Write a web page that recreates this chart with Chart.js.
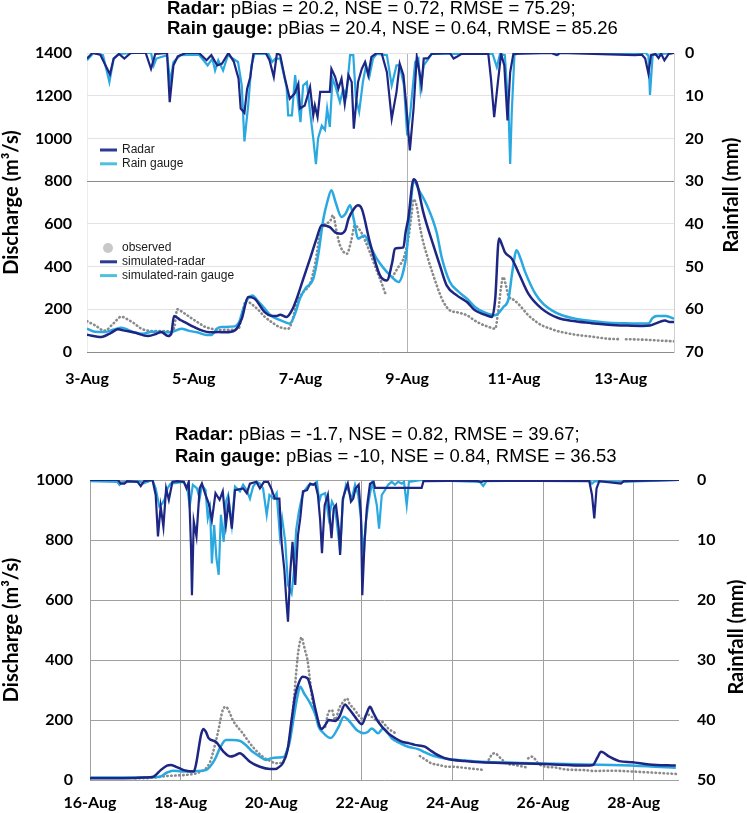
<!DOCTYPE html>
<html>
<head>
<meta charset="utf-8">
<script src="https://cdn.jsdelivr.net/npm/chart.js@4.4.1/dist/chart.umd.min.js"></script>
<style>
    html, body { margin: 0; padding: 0; background: #fff; }
    #wrap { position: relative; width: 747px; height: 813px; overflow: hidden; }
    canvas { position: absolute; left: 0; }
    #topChart { top: 0; }
    #bottomChart { top: 400px; }
</style>
</head>
<body>
<div id="wrap">
    <canvas id="topChart" width="747" height="396"></canvas>
    <canvas id="bottomChart" width="747" height="413"></canvas>
</div>
<script>
const COLOR_RADAR = '#1d2683';
const COLOR_GAUGE = '#2aa8e0';
const COLOR_OBS = '#8a8a8a';

// ---------- event 1 : 3-14 Aug ----------
const topTicks = [3, 5, 7, 9, 11, 13];
const topHeader = [
    ['Radar:', ' pBias = 20.2, NSE = 0.72, RMSE = 75.29;'],
    ['Rain gauge:', ' pBias = 20.4, NSE = 0.64, RMSE = 85.26']
];

const topObsTime = [3.0, 3.15, 3.33, 3.5, 3.64, 3.78, 3.89, 4.0, 4.14, 4.3, 4.45, 4.58, 4.64, 4.69, 4.8, 4.96, 5.1, 5.21, 5.35, 5.5, 5.65, 5.84, 5.9, 5.98, 6.08, 6.2, 6.33, 6.46, 6.6, 6.77, 6.85, 6.93, 7.05, 7.18, 7.28, 7.37, 7.46, 7.55, 7.61, 7.68, 7.74, 7.87, 7.95, 8.02, 8.1, 8.14, 8.3, 8.4, 8.49, 8.6, 8.66, 8.72, 8.84, 8.93, 9.02, 9.08, 9.12, 9.18, 9.24, 9.3, 9.37, 9.49, 9.6, 9.68, 9.8, 9.95, 10.12, 10.25, 10.37, 10.5, 10.65, 10.7, 10.76, 10.8, 10.85, 10.9, 10.96, 11.08, 11.27, 11.4, 11.52, 11.7, 11.83, 12.0, 12.15, 12.45, 12.77, 13.0, 13.05, 13.1, 13.4, 13.7, 14.0];
const topObsFlow = [144, 125, 100, 135, 165, 150, 133, 112, 100, 98, 98, 95, 120, 200, 185, 158, 135, 118, 108, 103, 104, 110, 170, 240, 225, 200, 165, 140, 118, 109, 150, 230, 280, 320, 420, 560, 600, 610, 640, 560, 500, 460, 520, 593, 575, 560, 468, 400, 343, 268, null, 350, 400, 437, 530, 640, 715, 680, 585, 515, 453, 359, 280, 234, 195, 185, 172, 150, 133, 120, 109, 180, 304, 351, 312, 260, 250, 226, 172, 145, 125, 108, 97, 88, 81, 72, 62, 60, null, 60, 58, 54, 50];

const topRadarTime = [3.0, 3.27, 3.45, 3.58, 3.7, 3.89, 4.14, 4.3, 4.39, 4.52, 4.58, 4.63, 4.75, 4.83, 5.0, 5.15, 5.3, 5.46, 5.6, 5.77, 5.9, 6.02, 6.14, 6.33, 6.45, 6.55, 6.62, 6.74, 6.85, 6.93, 7.05, 7.18, 7.3, 7.4, 7.55, 7.65, 7.75, 7.84, 7.9, 8.0, 8.08, 8.15, 8.3, 8.49, 8.62, 8.72, 8.77, 8.93, 8.97, 9.02, 9.12, 9.18, 9.3, 9.49, 9.62, 9.74, 9.93, 10.12, 10.27, 10.45, 10.59, 10.65, 10.72, 10.78, 10.83, 10.96, 11.08, 11.27, 11.52, 11.83, 12.15, 12.45, 12.77, 13.1, 13.4, 13.55, 13.65, 13.83, 13.92, 14.0];
const topRadarFlow = [81, 70, 90, 106, 100, 91, 75, 85, 94, 75, 86, 169, 150, 140, 118, 101, 92, 94, 92, 101, 156, 258, 250, 187, 170, 169, 175, 164, 200, 250, 340, 437, 530, 593, 585, 560, 554, 570, 624, 670, 687, 670, 515, 359, 335, 420, 484, 490, 560, 624, 809, 790, 656, 500, 400, 312, 265, 234, 195, 175, 164, 250, 531, 500, 468, 437, 375, 273, 203, 159, 144, 135, 128, 124, 122, 124, 133, 148, 140, 140];

const topGaugeTime = [3.0, 3.15, 3.33, 3.5, 3.64, 3.89, 4.05, 4.21, 4.39, 4.55, 4.77, 4.9, 5.08, 5.24, 5.33, 5.45, 5.52, 5.77, 5.85, 5.93, 6.03, 6.1, 6.2, 6.33, 6.45, 6.55, 6.71, 6.8, 6.9, 6.99, 7.1, 7.24, 7.33, 7.43, 7.5, 7.58, 7.66, 7.77, 7.85, 7.93, 8.0, 8.08, 8.2, 8.3, 8.43, 8.55, 8.68, 8.84, 8.93, 8.99, 9.05, 9.13, 9.24, 9.37, 9.55, 9.65, 9.8, 9.95, 10.12, 10.27, 10.45, 10.65, 10.8, 10.9, 10.97, 11.05, 11.12, 11.21, 11.4, 11.55, 11.71, 11.9, 12.15, 12.45, 12.77, 13.2, 13.52, 13.6, 13.68, 13.85, 14.0];
const topGaugeFlow = [109, 95, 94, 105, 113, 91, 85, 95, 94, 92, 109, 100, 91, 80, 80, 112, 117, 120, 140, 203, 255, 265, 240, 203, 170, 156, 140, 133, 180, 250, 300, 343, 450, 624, 700, 757, 700, 632, 650, 687, 620, 530, 546, 500, 437, 395, 359, 328, 380, 468, 656, 796, 749, 687, 562, 440, 328, 285, 250, 211, 185, 172, 210, 250, 375, 476, 440, 375, 273, 225, 195, 172, 156, 145, 137, 134, 133, 160, 169, 168, 156];

const topRadarRainTime = [3.0, 3.1, 3.25, 3.35, 3.43, 3.5, 3.6, 3.7, 3.82, 4.1, 4.2, 4.28, 4.5, 4.55, 4.62, 4.7, 4.85, 5.1, 5.24, 5.33, 5.44, 5.53, 5.65, 5.75, 5.84, 5.88, 5.95, 6.0, 6.06, 6.12, 6.35, 6.42, 6.5, 6.56, 6.62, 6.71, 6.8, 6.89, 6.96, 6.99, 7.08, 7.18, 7.24, 7.27, 7.32, 7.37, 7.55, 7.58, 7.65, 7.71, 7.77, 7.83, 7.9, 7.96, 8.0, 8.08, 8.15, 8.21, 8.27, 8.33, 8.43, 8.52, 8.62, 8.71, 8.8, 8.86, 8.93, 8.98, 9.05, 9.12, 9.18, 9.23, 9.27, 9.31, 9.39, 9.46, 9.8, 9.87, 9.93, 10.02, 10.52, 10.57, 10.63, 10.7, 10.76, 10.82, 10.88, 10.93, 10.99, 11.7, 11.8, 11.86, 13.27, 13.4, 13.46, 13.52, 13.57, 13.65, 13.71, 13.76, 13.82, 13.9, 14.0];
const topRadarRain = [1.3, 0, 0.4, 3, 5, 1.3, 0.2, 1.3, 0, 0, 3.7, 0.2, 0, 11.5, 2.9, 0.8, 0, 0, 1.7, 0.5, 2.9, 2.5, 0, 2, 6, 13, 14, 8.4, 5.6, 0, 0, 1.7, 5.6, 0, 0.5, 6, 10.7, 9.5, 7.2, 13, 12.3, 8, 14.6, 12.3, 15, 9.1, 9.1, 3.7, 5.6, 8.4, 6, 11.9, 5.2, 6.8, 17.7, 6.8, 3.7, 2.1, 5.2, 0.9, 0, 0, 4.5, 15.4, 9.1, 2.5, 5.2, 11.9, 22.8, 13, 0.9, 4.5, 7.6, 1.3, 1.2, 0.2, 0, 1.3, 0.9, 0.2, 0.2, 6, 15, 6.8, 0.2, 2.9, 15.8, 4.5, 0.2, 0, 0.5, 0, 0.5, 0.4, 1.3, 4.8, 0.5, 0.2, 1.2, 0.2, 1.7, 0.2, 0];

const topGaugeRainTime = [3.0, 3.12, 3.3, 3.42, 3.5, 3.6, 3.9, 4.2, 4.25, 4.3, 4.5, 4.56, 4.62, 4.75, 5.1, 5.26, 5.35, 5.4, 5.46, 5.55, 5.64, 5.83, 5.9, 5.95, 6.02, 6.08, 6.14, 6.4, 6.47, 6.53, 6.62, 6.74, 6.77, 6.84, 6.9, 6.96, 7.0, 7.05, 7.12, 7.18, 7.24, 7.29, 7.33, 7.4, 7.46, 7.5, 7.55, 7.6, 7.65, 7.74, 7.8, 7.86, 7.93, 7.99, 8.04, 8.1, 8.17, 8.23, 8.29, 8.36, 8.43, 8.62, 8.71, 8.8, 8.86, 8.94, 9.0, 9.06, 9.15, 9.21, 9.25, 9.31, 9.4, 9.46, 10.6, 10.68, 10.74, 10.83, 10.9, 10.93, 10.96, 11.01, 11.08, 11.77, 11.82, 11.86, 13.47, 13.5, 13.52, 13.55, 13.6, 13.77, 14.0];
const topGaugeRain = [1.7, 0, 0.5, 6.8, 1.3, 0.2, 0, 0, 2.9, 1.3, 0.5, 6.8, 2.1, 0.5, 0.4, 2.9, 1.3, 4.1, 1.7, 4.1, 0.5, 2.1, 7.6, 20.7, 12.3, 2.9, 0.2, 0.2, 2.1, 1.3, 1.3, 8, 14.6, 14.6, 5.2, 11.9, 16.2, 7.6, 6.8, 13.8, 20, 26, 20, 17, 18, 13, 17.3, 6, 7.6, 11.5, 8.4, 9.9, 0.5, 0.5, 10.7, 13.8, 6.8, 2.9, 5.6, 1.3, 0.2, 0.5, 7.6, 2.9, 2.9, 7.6, 19.3, 13.8, 2.1, 1.3, 8.4, 2.9, 1.3, 0.2, 0.2, 3.3, 0.2, 0.5, 13.8, 26, 13.8, 0.5, 0, 0, 0.5, 0, 0, 0.4, 0.5, 9.8, 0.5, 0.2, 0];

// ---------- event 2 : 16-29 Aug ----------
const bottomTicks = [16, 18, 20, 22, 24, 26, 28];
const bottomHeader = [
    ['Radar:', ' pBias = -1.7, NSE = 0.82, RMSE = 39.67;'],
    ['Rain gauge:', ' pBias = -10, NSE = 0.84, RMSE = 36.53']
];

const botObsTime = [17.0, 17.2, 17.4, 17.68, 17.9, 18.12, 18.34, 18.5, 18.56, 18.65, 18.71, 18.82, 18.93, 19.0, 19.08, 19.15, 19.37, 19.59, 19.81, 20.0, 20.1, 20.25, 20.33, 20.4, 20.5, 20.54, 20.58, 20.62, 20.67, 20.71, 20.75, 20.8, 20.85, 20.9, 20.99, 21.1, 21.17, 21.27, 21.34, 21.41, 21.5, 21.6, 21.67, 21.74, 21.79, 21.9, 22.0, 22.08, 22.15, 22.3, 22.45, 22.58, 22.74, 23.0, 23.28, 23.4, 23.53, 23.7, 23.9, 24.0, 24.35, 24.72, 24.76, 24.8, 24.87, 24.93, 25.08, 25.2, 25.38, 25.63, 25.65, 25.67, 25.75, 25.81, 25.89, 26.07, 26.25, 26.5, 26.91, 27.13, 27.5, 28.01, 28.5, 28.96];
const botObsFlow = [6, 6, 8, 13, 15, 17, 22, 32, 39, 60, 89, 156, 233, 244, 225, 200, 156, 111, 78, 62, 56, 58, 90, 133, 267, 339, 406, 450, 476, 455, 430, 400, 339, 275, 211, 175, 172, 228, 233, 200, 239, 262, 272, 250, 244, 222, 205, 211, 217, 200, 194, 172, 156, null, 80, 68, 56, 50, 44, 44, 39, 33, null, 67, 85, 89, 70, 55, 50, 42, null, 72, 78, 72, 56, 44, 42, 35, 33, 30, 31, 28, 24, 20];

const botRadarTime = [16.0, 16.5, 17.0, 17.2, 17.4, 17.56, 17.7, 17.78, 17.9, 18.07, 18.29, 18.35, 18.4, 18.45, 18.5, 18.56, 18.62, 18.77, 18.95, 19.1, 19.2, 19.31, 19.45, 19.53, 19.75, 19.97, 20.1, 20.15, 20.25, 20.36, 20.45, 20.53, 20.6, 20.69, 20.8, 20.9, 20.97, 21.11, 21.2, 21.27, 21.41, 21.5, 21.63, 21.7, 21.82, 21.9, 22.0, 22.1, 22.18, 22.25, 22.36, 22.58, 22.73, 22.88, 23.05, 23.17, 23.39, 23.5, 23.61, 23.75, 23.9, 24.27, 24.63, 25.26, 26.0, 26.95, 27.1, 27.2, 27.28, 27.46, 27.68, 27.97, 28.34, 28.93];
const botRadarFlow = [6, 6, 7, 8, 11, 33, 48, 50, 44, 33, 28, 60, 106, 150, 170, 160, 139, 128, 94, 78, 82, 89, 72, 61, 44, 37, 37, 41, 55, 100, 200, 283, 320, 344, 339, 290, 239, 170, 185, 200, 197, 210, 252, 240, 217, 200, 186, 220, 244, 225, 194, 156, 140, 128, 122, 117, 111, 100, 89, 78, 70, 63, 59, 56, 53, 48, 50, 75, 94, 78, 63, 59, 52, 48];

const botGaugeTime = [16.0, 16.8, 17.3, 17.54, 17.7, 17.83, 18.0, 18.12, 18.35, 18.56, 18.65, 18.75, 18.88, 19.0, 19.15, 19.3, 19.45, 19.59, 19.75, 19.88, 19.99, 20.15, 20.29, 20.35, 20.4, 20.5, 20.58, 20.64, 20.72, 20.84, 20.99, 21.04, 21.13, 21.31, 21.49, 21.6, 21.7, 21.82, 21.9, 22.04, 22.13, 22.22, 22.36, 22.47, 22.58, 22.66, 22.85, 23.02, 23.24, 23.4, 23.53, 23.7, 23.9, 24.27, 24.63, 25.5, 26.5, 27.5, 28.3, 28.93];
const botGaugeFlow = [8, 8, 9, 11, 25, 31, 29, 28, 30, 33, 45, 67, 110, 133, 133, 131, 115, 94, 78, 67, 72, 75, 78, 100, 122, 211, 280, 311, 290, 261, 211, 180, 160, 140, 178, 211, 200, 178, 165, 156, 160, 172, 156, 172, 155, 139, 122, 111, 103, 92, 83, 76, 70, 65, 61, 57, 53, 50, 46, 41];

const botRadarRainTime = [16.0, 16.62, 16.68, 16.76, 16.82, 17.05, 17.12, 17.19, 17.38, 17.45, 17.5, 17.56, 17.62, 17.68, 17.74, 17.82, 17.93, 18.07, 18.13, 18.18, 18.23, 18.25, 18.29, 18.35, 18.42, 18.47, 18.55, 18.62, 18.69, 18.77, 18.86, 18.93, 19.0, 19.06, 19.13, 19.2, 19.38, 19.46, 19.53, 19.67, 19.75, 19.84, 19.93, 20.0, 20.08, 20.18, 20.23, 20.29, 20.33, 20.37, 20.42, 20.47, 20.53, 20.59, 20.64, 20.7, 20.79, 20.86, 20.93, 20.97, 21.03, 21.08, 21.12, 21.18, 21.25, 21.33, 21.38, 21.43, 21.49, 21.52, 21.58, 21.63, 21.69, 21.76, 21.81, 21.86, 21.93, 21.98, 22.01, 22.06, 22.11, 22.18, 22.26, 22.29, 23.32, 23.36, 24.5, 24.64, 24.72, 27.02, 27.08, 27.13, 27.18, 27.24, 27.72, 27.78, 29.0];
const botRadarRain = [0, 0, 0.6, 0.6, 0.2, 0.3, 1, 0.2, 0, 2.5, 9.4, 4.4, 7.8, 1.4, 3.3, 0.3, 0.2, 0.3, 1.4, 0.3, 11.4, 19.2, 6.9, 9.4, 1.4, 0.6, 2.5, 3.9, 6.7, 2.2, 3.3, 1.9, 7.5, 3.6, 8.1, 1.7, 1.4, 2.2, 0.6, 0.3, 1.4, 0.3, 0.3, 1.4, 3.1, 3.1, 10.6, 15, 19.7, 23.6, 15.3, 10.3, 17.5, 9.2, 6.4, 1.9, 1.7, 0.6, 0.8, 0.6, 2.5, 6.7, 12.2, 4.2, 2.5, 9.7, 4.7, 4.2, 8.1, 12.5, 3.1, 1.9, 0.6, 3.6, 3.1, 1.4, 0.8, 5.8, 19.2, 10.3, 4.7, 0.6, 0.3, 1.3, 1.3, 0.2, 0.1, 0.3, 0.1, 0.2, 2.5, 6.4, 1.4, 0.2, 0.6, 0.2, 0];

const botGaugeRainTime = [16.0, 16.6, 16.65, 16.7, 17.1, 17.17, 17.38, 17.45, 17.53, 17.6, 17.65, 17.71, 17.78, 18.07, 18.15, 18.2, 18.27, 18.36, 18.42, 18.47, 18.55, 18.6, 18.65, 18.69, 18.74, 18.79, 18.84, 18.89, 18.95, 19.0, 19.05, 19.13, 19.2, 19.31, 19.38, 19.46, 19.53, 19.6, 19.68, 19.75, 19.82, 19.9, 19.96, 20.05, 20.12, 20.19, 20.24, 20.31, 20.37, 20.45, 20.5, 20.55, 20.61, 20.67, 20.72, 20.83, 20.94, 21.01, 21.06, 21.1, 21.19, 21.27, 21.34, 21.41, 21.47, 21.52, 21.58, 21.65, 21.7, 21.78, 21.85, 21.92, 21.98, 22.04, 22.09, 22.16, 22.23, 22.33, 22.38, 22.44, 22.51, 22.58, 22.66, 22.73, 22.8, 22.88, 22.93, 22.99, 23.04, 23.32, 24.6, 24.68, 24.75, 27.02, 27.08, 27.14, 27.72, 29.0];
const botGaugeRain = [0.2, 0.3, 0.8, 0.4, 0.2, 0.6, 0, 1.4, 4.4, 3.9, 3.1, 1.4, 0.6, 0.3, 1.4, 4.4, 0.8, 1.4, 3.1, 0.8, 1.7, 6.4, 4.7, 13.9, 7.5, 13, 15.8, 5.8, 10.3, 3.6, 2.5, 7.5, 1.1, 1.9, 0.8, 1.7, 3.1, 1.1, 0.3, 0.6, 1.4, 5.8, 2.5, 3.1, 2.2, 9.2, 6.4, 10.3, 17.5, 18.9, 15.3, 8.3, 5.3, 3.1, 1.9, 0.8, 0.7, 0.3, 3.6, 2.5, 2.2, 6.4, 3.6, 4.7, 8.6, 11.9, 3.6, 0.8, 1.7, 3.1, 0.8, 2.5, 6.4, 12.8, 6.9, 3.1, 0.3, 4.2, 8.1, 2.5, 1.7, 0.8, 0.3, 0.8, 0.3, 0.6, 0.3, 4.2, 0.3, 0, 0.3, 1, 0.2, 0, 0.6, 0.2, 0.3, 0];

const tickFont = { family: 'Lato', size: 16, weight: 'bold' };
const axisTitleFont = { family: 'Lato', size: 20, weight: 'bold' };

function points(times, values) {
    return times.map((t, i) => ({ x: t, y: values[i] }));
}

function flowSet(label, data, color) {
    return {
        label: label, data: data, yAxisID: 'y',
        borderColor: color, borderWidth: 2.5, pointRadius: 0,
        cubicInterpolationMode: 'monotone', spanGaps: false
    };
}

function obsSet(data) {
    return {
        label: 'observed', data: data, yAxisID: 'y',
        borderColor: COLOR_OBS, borderWidth: 2.6, borderDash: [0.5, 3.5], borderCapStyle: 'round',
        pointRadius: 0, cubicInterpolationMode: 'monotone', spanGaps: false
    };
}

function rainSet(label, data, color) {
    return {
        label: label, data: data, yAxisID: 'y2',
        borderColor: color, borderWidth: 2.2, pointRadius: 0, tension: 0
    };
}

// header, right axis title and in-plot legends
function decorPlugin(opts) {
    return {
        id: 'decor',
        afterDraw(chart) {
            const ctx = chart.ctx;
            ctx.save();
            ctx.fillStyle = '#000';
            ctx.textBaseline = 'middle';
            ctx.textAlign = 'left';
            opts.header.forEach(([bold, rest], i) => {
                ctx.font = 'bold 18.5px "Liberation Sans", Arial, sans-serif';
                ctx.fillText(bold, opts.headerX, opts.headerY[i]);
                const w = ctx.measureText(bold).width;
                ctx.font = '18.5px "Liberation Sans", Arial, sans-serif';
                ctx.fillText(rest, opts.headerX + w, opts.headerY[i]);
            });

            ctx.save();
            ctx.translate(opts.rightTitleX, opts.rightTitleY);
            ctx.rotate(-Math.PI / 2);
            ctx.textAlign = 'center';
            ctx.font = 'bold 20px Lato, sans-serif';
            ctx.fillText('Rainfall (mm)', 0, 0);
            ctx.restore();

            (opts.legends || []).forEach(lg => {
                lg.items.forEach((item, i) => {
                    const y = lg.y + i * 13.8;
                    if (item.kind === 'dot') {
                        ctx.fillStyle = '#c8c8c8';
                        ctx.beginPath();
                        ctx.arc(lg.x + 8, y, 5, 0, Math.PI * 2);
                        ctx.fill();
                    } else {
                        ctx.strokeStyle = item.color;
                        ctx.lineWidth = 3;
                        ctx.beginPath();
                        ctx.moveTo(lg.x, y);
                        ctx.lineTo(lg.x + 17, y);
                        ctx.stroke();
                    }
                    ctx.fillStyle = '#1a1a1a';
                    ctx.font = '12px "Liberation Sans", Arial, sans-serif';
                    ctx.textAlign = 'left';
                    ctx.fillText(item.label, lg.x + 22, y);
                });
            });
            ctx.restore();
        }
    };
}

function buildChart(canvas, cfg) {
    return new Chart(canvas, {
        type: 'line',
        data: { datasets: cfg.datasets },
        options: {
            responsive: false,
            animation: false,
            layout: { padding: { top: cfg.top, left: 0, right: 0, bottom: 0 } },
            plugins: { legend: { display: false }, tooltip: { enabled: false } },
            scales: {
                x: {
                    type: 'linear', min: cfg.xMin, max: cfg.xMax,
                    afterBuildTicks: s => { s.ticks = cfg.xTicks.map(v => ({ value: v })); },
                    afterFit: s => { s.height = cfg.xHeight; },
                    ticks: { callback: v => v + '-Aug', font: tickFont, color: '#000', padding: cfg.xPad, maxRotation: 0, autoSkip: false },
                    grid: { color: cfg.xGridColor, drawTicks: false, lineWidth: 1 },
                    border: { display: false }
                },
                y: {
                    position: 'left', min: 0, max: cfg.flowMax,
                    afterFit: s => { s.width = cfg.leftWidth; },
                    ticks: { stepSize: cfg.flowStep, font: tickFont, color: '#000', padding: cfg.yPad, callback: v => String(v) },
                    grid: { color: cfg.yGridColor, drawTicks: false, lineWidth: 1 },
                    border: { display: false },
                    title: { display: true, text: 'Discharge (m³/s)', font: axisTitleFont, color: '#000', padding: { top: 0, bottom: 0 } }
                },
                y2: {
                    position: 'right', reverse: true, min: 0, max: cfg.rainMax,
                    afterFit: s => { s.width = cfg.rightWidth; },
                    ticks: { stepSize: 10, font: tickFont, color: '#000', padding: cfg.y2Pad, callback: v => String(v) },
                    grid: { display: false, drawTicks: false },
                    border: { display: cfg.rightBorder, color: '#d0d0d0' }
                }
            }
        },
        plugins: [decorPlugin(cfg.decor)]
    });
}

buildChart(document.getElementById('topChart'), {
    datasets: [
        rainSet('Radar', points(topRadarRainTime, topRadarRain), COLOR_RADAR),
        rainSet('Rain gauge', points(topGaugeRainTime, topGaugeRain), COLOR_GAUGE),
        flowSet('simulated-radar', points(topRadarTime, topRadarFlow), COLOR_RADAR),
        flowSet('simulated-rain gauge', points(topGaugeTime, topGaugeFlow), COLOR_GAUGE),
        obsSet(points(topObsTime, topObsFlow))
    ],
    top: 53, xMin: 3, xMax: 14, xTicks: topTicks, xHeight: 44, xPad: 17,
    flowMax: 1400, flowStep: 200, rainMax: 70,
    leftWidth: 87, rightWidth: 73, yPad: 15, y2Pad: 11, rightBorder: true,
    xGridColor: c => c.tick.value === 9 ? '#b4b4b4' : (c.tick.value === 3 ? '#ececec' : 'rgba(0,0,0,0)'),
    yGridColor: c => (c.tick.value === 800 || c.tick.value === 0) ? '#8c8c8c' : '#e3e3e3',
    decor: {
        header: topHeader, headerX: 167, headerY: [9, 29],
        rightTitleX: 732, rightTitleY: 195,
        legends: [
            { x: 100, y: 150, items: [{ label: 'Radar', color: '#2b3a92' }, { label: 'Rain gauge', color: '#4fc0de' }] },
            { x: 100, y: 248, items: [{ label: 'observed', kind: 'dot' }, { label: 'simulated-radar', color: '#2b3a92' }, { label: 'simulated-rain gauge', color: '#4fc0de' }] }
        ]
    }
});

buildChart(document.getElementById('bottomChart'), {
    datasets: [
        rainSet('Radar', points(botRadarRainTime, botRadarRain), COLOR_RADAR),
        rainSet('Rain gauge', points(botGaugeRainTime, botGaugeRain), COLOR_GAUGE),
        flowSet('simulated-radar', points(botRadarTime, botRadarFlow), COLOR_RADAR),
        flowSet('simulated-rain gauge', points(botGaugeTime, botGaugeFlow), COLOR_GAUGE),
        obsSet(points(botObsTime, botObsFlow))
    ],
    top: 80, xMin: 16, xMax: 29, xTicks: bottomTicks, xHeight: 33, xPad: 13,
    flowMax: 1000, flowStep: 200, rainMax: 50,
    leftWidth: 90, rightWidth: 68, yPad: 17, y2Pad: 18, rightBorder: false,
    xGridColor: '#a0a0a0',
    yGridColor: '#a0a0a0',
    decor: {
        header: bottomHeader, headerX: 175, headerY: [35, 57],
        rightTitleX: 737, rightTitleY: 237,
        legends: []
    }
});
</script>
</body>
</html>
